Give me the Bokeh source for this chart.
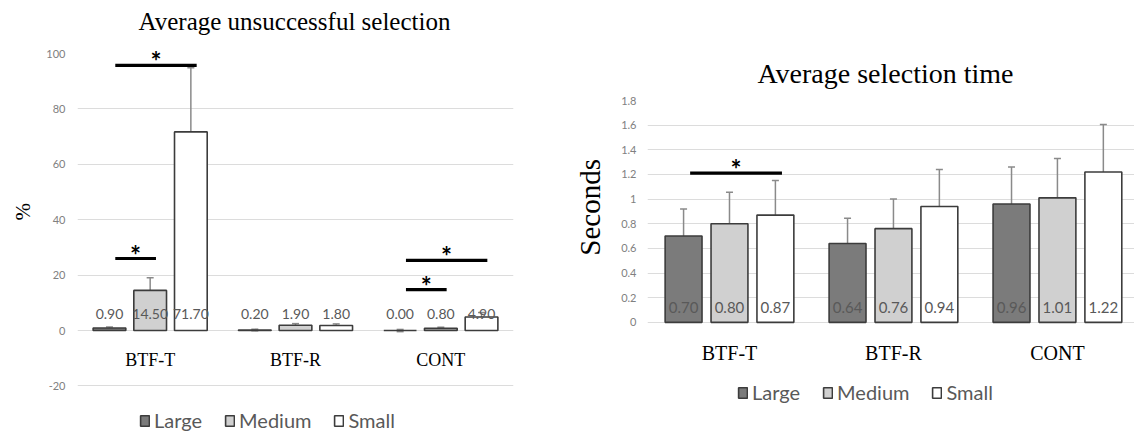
import math
from bokeh.plotting import figure
from bokeh.layouts import row
from bokeh.models import (ColumnDataSource, FixedTicker, Legend, LegendItem,
                          Whisker, TeeHead, Range1d)
from bokeh.core.properties import value
from bokeh.embed import file_html
from bokeh.resources import INLINE

categories = ["BTF-T", "BTF-R", "CONT"]
sizes = ["Large", "Medium", "Small"]

# Average unsuccessful selection (%)
unsucc_title = "Average unsuccessful selection"
unsucc_ylabel = "%"
unsucc_large = [0.90, 0.20, 0.00]
unsucc_medium = [14.50, 1.90, 0.80]
unsucc_small = [71.70, 1.80, 4.90]
unsucc_err_large = [0.4, 0.3, 0.4]
unsucc_err_medium = [4.6, 0.6, 0.4]
unsucc_err_small = [23.2, 0.6, 1.6]
unsucc_ticks = [-20, 0, 20, 40, 60, 80, 100]
unsucc_tick_labels = ["-20", "0", "20", "40", "60", "80", "100"]
unsucc_sig_cat = [0, 0, 2, 2]
unsucc_sig_from = [0, 0, 0, 0]
unsucc_sig_to = [2, 1, 2, 1]
unsucc_sig_y = [95.7, 26.0, 25.3, 14.8]

# Average selection time (seconds)
time_title = "Average selection time"
time_ylabel = "Seconds"
time_large = [0.70, 0.64, 0.96]
time_medium = [0.80, 0.76, 1.01]
time_small = [0.87, 0.94, 1.22]
time_err_large = [0.22, 0.205, 0.30]
time_err_medium = [0.255, 0.24, 0.32]
time_err_small = [0.28, 0.30, 0.385]
time_ticks = [0, 0.2, 0.4, 0.6, 0.8, 1.0, 1.2, 1.4, 1.6, 1.8]
time_tick_labels = ["0", "0.2", "0.4", "0.6", "0.8", "1", "1.2", "1.4", "1.6", "1.8"]
time_sig_cat = [0]
time_sig_from = [0]
time_sig_to = [2]
time_sig_y = [1.21]

FILLS = ["#7b7b7b", "#d0d0d0", "#ffffff"]
OFFSETS = [-0.28, 0.0, 0.28]
BAR_W = 0.225
SERIF = "Liberation Serif"
SANS = "Lato"


def build(title, ylabel, series, errs, yr, ticks, tick_labels, sig, dims, st):
    (width, bl, br, bt, xend) = dims
    p = figure(width=width, height=432, output_backend="svg", toolbar_location=None,
               x_range=Range1d(-0.5, xend), y_range=Range1d(*yr),
               x_axis_location=None,
               min_border_left=bl, min_border_right=br, min_border_top=bt,
               min_border_bottom=0)
    try:
        p.frame_align = False
    except Exception:
        pass
    p.outline_line_color = None

    # chart title, above the plotting area
    tsrc = ColumnDataSource(dict(x=[(len(categories) - 1) / 2], y=[ticks[-1]], t=[title]))
    p.text(x="x", y="y", text="t", source=tsrc, y_offset=st["title_off"],
           x_offset=st["title_dx"], text_align="center", text_baseline="middle",
           text_font=value(SERIF), text_font_size=st["title"],
           text_color="#000000", level="overlay")

    # y axis title, centred on the value scale
    lsrc = ColumnDataSource(dict(x=[-0.5], y=[(ticks[0] + ticks[-1]) / 2], t=[ylabel]))
    p.text(x="x", y="y", text="t", source=lsrc, x_offset=st["ylab_dx"],
           y_offset=st["ylab_dy"], angle=math.pi / 2, text_align="center",
           text_baseline="middle", text_font=value(SERIF),
           text_font_size=st["ylabel"], text_color="#000000", level="overlay")

    renderers = []
    for i, (vals, err) in enumerate(zip(series, errs)):
        xs = [c + OFFSETS[i] for c in range(len(categories))]
        src = ColumnDataSource(dict(
            x=xs, top=vals,
            lo=[v - e for v, e in zip(vals, err)],
            hi=[v + e for v, e in zip(vals, err)],
            label=["%.2f" % v for v in vals]))
        r = p.vbar(x="x", top="top", bottom=0, width=BAR_W, source=src,
                   fill_color=FILLS[i], line_color="#3c3c3c", line_width=1.6)
        renderers.append(r)
        head = dict(size=7, line_color="#8a8a8a", line_width=1.5)
        p.add_layout(Whisker(base="x", lower="lo", upper="hi", source=src,
                             line_color="#8a8a8a", line_width=1.5,
                             upper_head=TeeHead(**head), lower_head=TeeHead(**head)))
        p.text(x="x", y=0, text="label", source=src, y_offset=st["val_off"],
               text_align="center", text_baseline="middle",
               text_font=value(SANS), text_font_size=st["val"],
               text_color="#595959")

    # category labels below the zero line
    csrc = ColumnDataSource(dict(x=list(range(len(categories))), name=categories))
    p.text(x="x", y=0, text="name", source=csrc, y_offset=st["cat_off"],
           text_align="center", text_baseline="middle", text_font=value(SERIF),
           text_font_size=st["cat"], text_color="#000000", level="overlay")

    cat, fr, to, ys = sig
    x0 = [c + OFFSETS[a] + 0.04 for c, a in zip(cat, fr)]
    x1 = [c + OFFSETS[b] + 0.04 for c, b in zip(cat, to)]
    ssrc = ColumnDataSource(dict(x0=x0, x1=x1, y=ys,
                                 xm=[(a + b) / 2 for a, b in zip(x0, x1)],
                                 star=["*"] * len(ys)))
    p.segment(x0="x0", y0="y", x1="x1", y1="y", source=ssrc,
              line_color="#000000", line_width=3.2, level="overlay")
    p.text(x="xm", y="y", text="star", source=ssrc, text_align="center",
           text_baseline="alphabetic", y_offset=-4, text_font=value(SANS),
           text_font_size="26px", text_font_style="bold", text_color="#000000",
           level="overlay")

    p.xgrid.grid_line_color = None
    p.ygrid.ticker = FixedTicker(ticks=ticks)
    p.ygrid.grid_line_color = "#dcdcdc"
    p.ygrid.grid_line_width = 1.2

    ya = p.yaxis[0]
    ya.ticker = FixedTicker(ticks=ticks)
    ya.major_label_overrides = {t: l for t, l in zip(ticks, tick_labels)}
    ya.axis_line_color = None
    ya.major_tick_line_color = None
    ya.minor_tick_line_color = None
    ya.major_label_text_color = "#808080"
    ya.major_label_text_font = SANS
    ya.major_label_text_font_size = "11px"
    ya.major_label_standoff = st["ytick_standoff"]

    legend = Legend(items=[LegendItem(label=s, renderers=[r]) for s, r in zip(sizes, renderers)],
                    orientation="horizontal", location=st["leg_loc"],
                    label_text_font=SANS, label_text_font_size="20px",
                    label_text_color="#595959", glyph_width=11, glyph_height=13,
                    label_standoff=4, spacing=22, padding=0, margin=0,
                    border_line_color=None, background_fill_alpha=0)
    p.add_layout(legend)
    return p


left = build(unsucc_title, unsucc_ylabel,
             [unsucc_large, unsucc_medium, unsucc_small],
             [unsucc_err_large, unsucc_err_medium, unsucc_err_small],
             (-36.8, 100), unsucc_ticks, unsucc_tick_labels,
             (unsucc_sig_cat, unsucc_sig_from, unsucc_sig_to, unsucc_sig_y),
             (560, 77, 47, 53, 2.5),
             dict(title="25px", title_off=-32, title_dx=-1, val="14px", val_off=-17,
                  cat="18px", cat_off=29, ytick_standoff=6,
                  ylabel="21px", ylab_dx=-55, ylab_dy=-8,
                  leg_loc=(62, 0)))

right = build(time_title, time_ylabel,
              [time_large, time_medium, time_small],
              [time_err_large, time_err_medium, time_err_small],
              (-0.894, 1.8), time_ticks, time_tick_labels,
              (time_sig_cat, time_sig_from, time_sig_to, time_sig_y),
              (574, 87, 0, 100, 2.47),
              dict(title="28px", title_off=-27, title_dx=-8, val="15px", val_off=-15,
                   cat="20px", cat_off=31, ytick_standoff=5,
                   ylabel="29px", ylab_dx=-58, ylab_dy=-4,
                   leg_loc=(90, 28)))

layout = row(left, right)
open("out.html", "w").write(file_html(layout, INLINE))
